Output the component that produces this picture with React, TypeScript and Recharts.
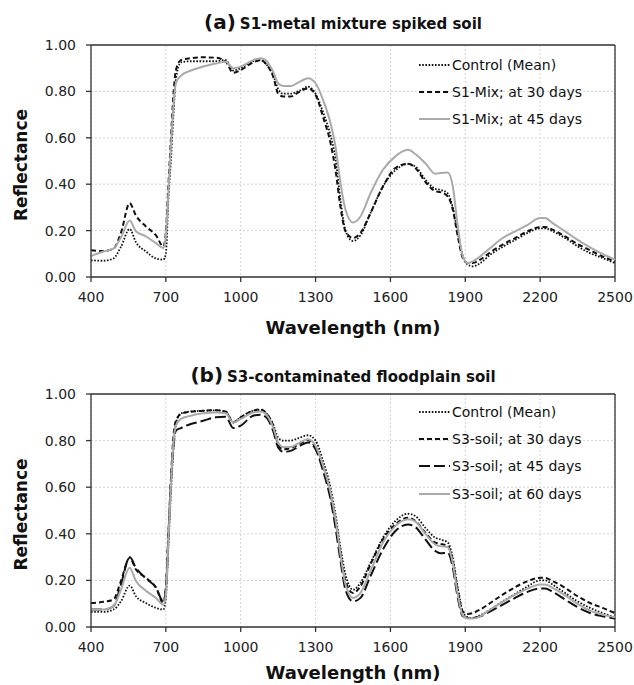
import { CartesianGrid, Legend, Line, LineChart, ReferenceLine, XAxis, YAxis } from "recharts";

// Wavelength sampling (nm), shared by both panels
const wavelengths = [
  400, 450, 490, 520, 555, 580, 620, 660, 690, 700, 710, 720, 730, 740, 760, 800, 850, 900, 940, 970,
  1000, 1050, 1080, 1100, 1130, 1150, 1170, 1200, 1230, 1270, 1300, 1330, 1360, 1380, 1400, 1420, 1450,
  1480, 1520, 1570, 1620, 1670, 1700, 1740, 1780, 1800, 1830, 1850, 1870, 1890, 1910, 1930, 1960, 2000,
  2050, 2100, 2150, 2200, 2220, 2250, 2300, 2350, 2400, 2450, 2500,
];

// (a) S1-metal mixture spiked soil
const s1Control = [
  0.072, 0.07, 0.08, 0.13, 0.207, 0.15, 0.11, 0.08, 0.075, 0.1, 0.33, 0.5, 0.69, 0.85, 0.925, 0.93, 0.93, 0.93, 0.935, 0.89,
  0.9, 0.93, 0.935, 0.92, 0.87, 0.81, 0.79, 0.79, 0.8, 0.82, 0.79, 0.71, 0.61, 0.51, 0.33, 0.2, 0.155,
  0.18, 0.275, 0.39, 0.46, 0.487, 0.476, 0.42, 0.38, 0.376, 0.36, 0.3, 0.19, 0.09, 0.053, 0.046, 0.06, 0.096,
  0.13, 0.16, 0.19, 0.21, 0.21, 0.197, 0.168, 0.132, 0.103, 0.082, 0.06,
];
const s1Mix30 = [
  0.115, 0.112, 0.122, 0.19, 0.318, 0.265, 0.218, 0.18, 0.132, 0.19, 0.39, 0.59, 0.78, 0.89, 0.935, 0.943, 0.947, 0.945, 0.928, 0.88,
  0.892, 0.925, 0.935, 0.92, 0.864, 0.79, 0.778, 0.778, 0.795, 0.813, 0.785, 0.69, 0.577, 0.46, 0.3, 0.197, 0.168,
  0.19, 0.275, 0.39, 0.47, 0.488, 0.47, 0.41, 0.37, 0.366, 0.347, 0.29, 0.175, 0.082, 0.06, 0.06, 0.075, 0.106,
  0.14, 0.168, 0.197, 0.215, 0.215, 0.204, 0.175, 0.142, 0.115, 0.089, 0.067,
];
const s1Mix45 = [
  0.09, 0.11, 0.122, 0.17, 0.244, 0.197, 0.175, 0.146, 0.125, 0.175, 0.36, 0.56, 0.735, 0.835, 0.867, 0.89, 0.907, 0.92, 0.928, 0.9,
  0.907, 0.935, 0.943, 0.935, 0.885, 0.835, 0.823, 0.823, 0.838, 0.857, 0.835, 0.763, 0.663, 0.562, 0.405, 0.29, 0.235,
  0.261, 0.36, 0.462, 0.52, 0.548, 0.53, 0.49, 0.445, 0.448, 0.45, 0.39, 0.218, 0.089, 0.06, 0.067, 0.089, 0.125,
  0.168, 0.197, 0.225, 0.254, 0.254, 0.232, 0.197, 0.16, 0.128, 0.1, 0.075,
];

// (b) S3-contaminated floodplain soil
const s3Control = [
  0.065, 0.065, 0.075, 0.11, 0.178, 0.132, 0.103, 0.082, 0.075, 0.125, 0.34, 0.57, 0.756, 0.87, 0.917, 0.925, 0.928, 0.93, 0.925, 0.878,
  0.9, 0.928, 0.932, 0.92, 0.87, 0.813, 0.8, 0.8, 0.81, 0.823, 0.8, 0.713, 0.598, 0.483, 0.34, 0.225, 0.16,
  0.19, 0.275, 0.383, 0.455, 0.486, 0.476, 0.426, 0.383, 0.376, 0.362, 0.297, 0.168, 0.067, 0.042, 0.039, 0.05, 0.075,
  0.11, 0.142, 0.175, 0.2, 0.2, 0.182, 0.146, 0.11, 0.082, 0.06, 0.042,
];
const s3Soil30 = [
  0.103, 0.108, 0.118, 0.197, 0.297, 0.247, 0.211, 0.17, 0.103, 0.168, 0.397, 0.627, 0.813, 0.885, 0.914, 0.924, 0.928, 0.93, 0.924, 0.878,
  0.9, 0.928, 0.934, 0.92, 0.864, 0.785, 0.763, 0.768, 0.782, 0.802, 0.77, 0.684, 0.57, 0.455, 0.311, 0.197, 0.146,
  0.175, 0.268, 0.376, 0.44, 0.469, 0.455, 0.405, 0.362, 0.357, 0.347, 0.283, 0.154, 0.067, 0.056, 0.06, 0.075, 0.103,
  0.139, 0.171, 0.197, 0.211, 0.211, 0.197, 0.168, 0.132, 0.103, 0.082, 0.06,
];
const s3Soil45 = [
  0.075, 0.075, 0.089, 0.182, 0.3, 0.254, 0.208, 0.17, 0.11, 0.16, 0.383, 0.613, 0.77, 0.842, 0.854, 0.871, 0.885, 0.9, 0.902, 0.854,
  0.864, 0.907, 0.911, 0.902, 0.842, 0.77, 0.752, 0.756, 0.773, 0.792, 0.763, 0.67, 0.548, 0.426, 0.283, 0.16, 0.11,
  0.125, 0.218, 0.333, 0.412, 0.44, 0.429, 0.376, 0.326, 0.316, 0.319, 0.254, 0.125, 0.046, 0.039, 0.039, 0.046, 0.067,
  0.096, 0.125, 0.151, 0.165, 0.165, 0.151, 0.118, 0.085, 0.06, 0.046, 0.036,
];
const s3Soil60 = [
  0.075, 0.075, 0.089, 0.16, 0.254, 0.197, 0.156, 0.125, 0.096, 0.139, 0.369, 0.598, 0.785, 0.864, 0.893, 0.907, 0.917, 0.921, 0.917, 0.878,
  0.893, 0.921, 0.925, 0.914, 0.857, 0.792, 0.773, 0.773, 0.788, 0.806, 0.778, 0.692, 0.577, 0.462, 0.311, 0.182, 0.125,
  0.146, 0.24, 0.362, 0.433, 0.462, 0.452, 0.4, 0.354, 0.347, 0.343, 0.275, 0.139, 0.05, 0.036, 0.036, 0.046, 0.075,
  0.108, 0.139, 0.165, 0.182, 0.182, 0.168, 0.136, 0.099, 0.07, 0.053, 0.042,
];

const xTicks = [400, 700, 1000, 1300, 1600, 1900, 2200, 2500];
const yTicks = [0, 0.2, 0.4, 0.6, 0.8, 1.0];

const FONT = '"DejaVu Sans", Verdana, sans-serif';
const AXIS = "#333";

type Series = {
  key: string;
  name: string;
  values: number[];
  stroke: string;
  dash?: string;
  width: number;
};

const dotted = { stroke: "#111", dash: "1.6 1.6", width: 1.8 };
const shortDash = { stroke: "#111", dash: "5 3", width: 2 };
const longDash = { stroke: "#111", dash: "11 4", width: 2 };
const grey = { stroke: "#aaaaaa", width: 2 };

const panelA: Series[] = [
  { key: "control", name: "Control (Mean)", values: s1Control, ...dotted },
  { key: "d30", name: "S1-Mix; at 30 days", values: s1Mix30, ...shortDash },
  { key: "d45", name: "S1-Mix; at 45 days", values: s1Mix45, ...grey },
];

const panelB: Series[] = [
  { key: "control", name: "Control (Mean)", values: s3Control, ...dotted },
  { key: "d30", name: "S3-soil; at 30 days", values: s3Soil30, ...shortDash },
  { key: "d45", name: "S3-soil; at 45 days", values: s3Soil45, ...longDash },
  { key: "d60", name: "S3-soil; at 60 days", values: s3Soil60, ...grey },
];

interface PanelProps {
  tag: string;
  title: string;
  series: Series[];
  top: number;
  height: number;
  plotTop: number;
  xAxisHeight: number;
  titleTop: number;
  legendTop: number;
}

function LegendBox({ series }: { series: Series[] }) {
  return (
    <div style={{ fontFamily: FONT, fontSize: 14, color: "#111" }}>
      {series.map((s) => (
        <div key={s.key} style={{ display: "flex", alignItems: "center", height: 27.3, whiteSpace: "nowrap" }}>
          <svg width={31} height={10} style={{ marginRight: 2 }}>
            <line x1={0} y1={5} x2={31} y2={5} stroke={s.stroke} strokeWidth={s.width} strokeDasharray={s.dash} />
          </svg>
          <span>{s.name}</span>
        </div>
      ))}
    </div>
  );
}

function Panel({ tag, title, series, top, height, plotTop, xAxisHeight, titleTop, legendTop }: PanelProps) {
  const rows = wavelengths.map((wl, i) => {
    const row: Record<string, number> = { wl };
    series.forEach((s) => {
      row[s.key] = s.values[i];
    });
    return row;
  });

  return (
    <div style={{ position: "absolute", left: 0, top, width: 634, height }}>
      <div
        style={{
          position: "absolute",
          left: 343,
          top: titleTop,
          transform: "translateX(-50%)",
          whiteSpace: "nowrap",
          fontFamily: FONT,
          fontWeight: 700,
          color: "#111",
          lineHeight: "26px",
          zIndex: 2,
        }}
      >
        <span style={{ fontSize: 20 }}>{tag}</span>
        <span style={{ fontSize: 15, marginLeft: 4 }}>{title}</span>
      </div>
      <LineChart width={634} height={height} data={rows} margin={{ top: plotTop, right: 19, bottom: 0, left: 0 }}>
        <CartesianGrid stroke="#d4d4d4" strokeDasharray="2 2" verticalPoints={undefined} />
        <XAxis
          type="number"
          dataKey="wl"
          domain={[400, 2500]}
          ticks={xTicks}
          interval={0}
          height={xAxisHeight}
          stroke={AXIS}
          strokeWidth={1.3}
          tickSize={5}
          tickMargin={10}
          tick={{ fontSize: 14, fill: "#222", fontFamily: FONT }}
          label={{
            content: ({ viewBox }: any) => (
              <text
                x={viewBox.x + viewBox.width / 2}
                y={viewBox.y + viewBox.height - 6}
                textAnchor="middle"
                fontFamily={FONT}
                fontWeight={700}
                fontSize={18}
                fill="#111"
              >
                Wavelength (nm)
              </text>
            ),
          }}
        />
        <YAxis
          type="number"
          domain={[0, 1]}
          ticks={yTicks}
          interval={0}
          width={91}
          stroke={AXIS}
          strokeWidth={1.3}
          tickSize={5}
          tickMargin={10}
          tickFormatter={(v: number) => v.toFixed(2)}
          tick={{ fontSize: 14, fill: "#222", fontFamily: FONT }}
          label={{
            content: ({ viewBox }: any) => (
              <text
                transform={`translate(21, ${viewBox.y + viewBox.height / 2 + 4}) rotate(-90)`}
                textAnchor="middle"
                dominantBaseline="central"
                fontFamily={FONT}
                fontWeight={700}
                fontSize={17}
                fill="#111"
              >
                Reflectance
              </text>
            ),
          }}
        />
        <ReferenceLine y={1} stroke={AXIS} strokeWidth={1.3} />
        <ReferenceLine x={2500} stroke={AXIS} strokeWidth={1.3} />
        {series.map((s) => (
          <Line
            key={s.key}
            type="monotone"
            dataKey={s.key}
            name={s.name}
            stroke={s.stroke}
            strokeWidth={s.width}
            strokeDasharray={s.dash}
            dot={false}
            activeDot={false}
            isAnimationActive={false}
          />
        ))}
        <Legend
          layout="vertical"
          align="center"
          verticalAlign="middle"
          wrapperStyle={{ top: legendTop, left: 419, width: 200, height: series.length * 27.3 }}
          content={() => <LegendBox series={series} />}
        />
      </LineChart>
    </div>
  );
}

export default function App() {
  return (
    <div style={{ position: "absolute", left: 0, top: 0, width: 634, height: 685, background: "#fff" }}>
      <Panel
        tag="(a)"
        title="S1-metal mixture spiked soil"
        series={panelA}
        top={0}
        height={340}
        plotTop={45}
        xAxisHeight={63}
        titleTop={9}
        legendTop={51}
      />
      <Panel
        tag="(b)"
        title="S3-contaminated floodplain soil"
        series={panelB}
        top={340}
        height={345}
        plotTop={54}
        xAxisHeight={58}
        titleTop={22}
        legendTop={58}
      />
    </div>
  );
}
